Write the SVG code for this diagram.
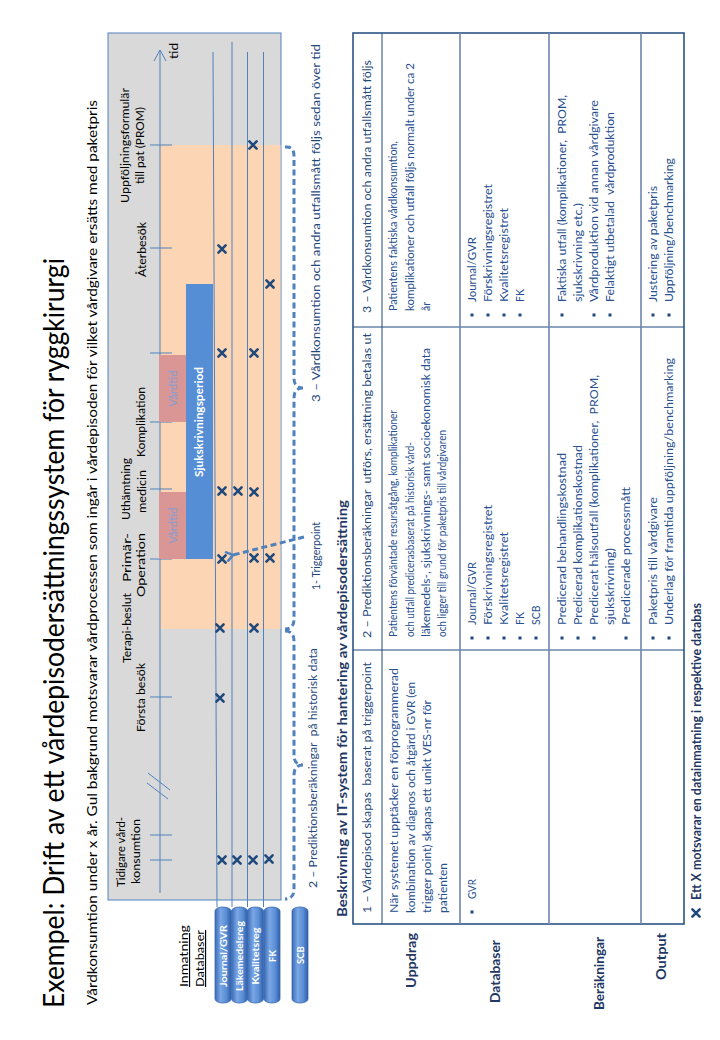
<svg xmlns="http://www.w3.org/2000/svg" width="720" height="1040" viewBox="0 0 720 1040">
<style>
text{font-family:Lato,"Liberation Sans",Arial,sans-serif;}
.t{font-size:11px;fill:#000;}
.lbl{font-size:11px;fill:#1f497d;}
.hd{font-size:11px;fill:#1f497d;}
.c{font-size:10.5px;fill:#27508f;}
.b{font-size:12.5px;font-weight:bold;fill:#1f3864;}
.db{font-size:9.5px;font-weight:bold;fill:#fff;}
.ax{stroke:#4f81bd;stroke-width:1;fill:none;}
.brace{stroke:#4f81bd;stroke-width:3;fill:none;stroke-dasharray:6 3.5;}
.grid{stroke:#1f497d;stroke-width:1;fill:none;}
.rowl{stroke:#6f86b0;stroke-width:1.6;fill:none;}
.bul{fill:#1f497d;}
</style>
<defs>
<linearGradient id="cyl" x1="0" y1="0" x2="1" y2="0">
<stop offset="0" stop-color="#3a6cb8"/>
<stop offset="0.35" stop-color="#7aa6e4"/>
<stop offset="0.7" stop-color="#5a8ed6"/>
<stop offset="1" stop-color="#2f5fa8"/>
</linearGradient>
<g id="xm"><path d="M-3.6,-3.6 L3.6,3.6 M3.6,-3.6 L-3.6,3.6" stroke="#1f497d" stroke-width="2.6" stroke-linecap="round"/></g>
<marker id="chev" viewBox="0 0 12 12" refX="2" refY="6" markerWidth="12" markerHeight="12" markerUnits="userSpaceOnUse" orient="auto">
<path d="M9,1 L2,6 L9,11" fill="none" stroke="#4f81bd" stroke-width="2.6"/>
</marker>
</defs>

<g id="title">
<text transform="translate(64,1008) rotate(-90)" font-size="29" fill="#000" textLength="750" lengthAdjust="spacingAndGlyphs">Exempel: Drift av ett vårdepisodersättningssystem för ryggkirurgi</text>
<text transform="translate(97,1005) rotate(-90)" font-size="12.5" fill="#000" textLength="905" lengthAdjust="spacingAndGlyphs">Vårdkonsumtion under x år. Gul bakgrund motsvarar vårdprocessen som ingår i vårdepisoden för vilket vårdgivare ersätts med paketpris</text>
</g>

<g id="chart">
<rect x="108" y="33" width="173" height="867" fill="#d9d9d9" stroke="#4f81bd" stroke-width="1"/>
<rect x="160" y="145" width="120.5" height="484" fill="#fcd5b4"/>
</g>

<g id="timeline">
<path class="ax" d="M160,893 L160,50 M154,61 L160,50 L166,61"/>
<path class="ax" d="M150,145 H172 M150,248 H172 M150,353 H172 M150,422 H172 M150,489 H172 M150,559 H172 M150,697 H172 M150,835 H172 M150,860 H172"/>
<path class="ax" d="M148,773 L170,790 M147,783 L168,799"/>
<text class="t" transform="translate(125,887) rotate(-90)" textLength="70" lengthAdjust="spacingAndGlyphs">Tidigare vård-</text>
<text class="t" transform="translate(140,884) rotate(-90)" textLength="65" lengthAdjust="spacingAndGlyphs">konsumtion</text>
<text class="t" transform="translate(145,732) rotate(-90)" textLength="69" lengthAdjust="spacingAndGlyphs">Första besök</text>
<text class="t" transform="translate(131,663) rotate(-90)" textLength="70" lengthAdjust="spacingAndGlyphs">Terapi-beslut</text>
<text class="t" transform="translate(131,582) rotate(-90)" textLength="49" lengthAdjust="spacingAndGlyphs">Primär-</text>
<text class="t" transform="translate(145,597) rotate(-90)" textLength="64" lengthAdjust="spacingAndGlyphs">Operation</text>
<text class="t" transform="translate(130,520) rotate(-90)" textLength="62" lengthAdjust="spacingAndGlyphs">Uthämtning</text>
<text class="t" transform="translate(146,513) rotate(-90)" textLength="43" lengthAdjust="spacingAndGlyphs">medicin</text>
<text class="t" transform="translate(145,457) rotate(-90)" textLength="70" lengthAdjust="spacingAndGlyphs">Komplikation</text>
<text class="t" transform="translate(146,277) rotate(-90)" textLength="55" lengthAdjust="spacingAndGlyphs">Återbesök</text>
<text class="t" transform="translate(129,203) rotate(-90)" textLength="115" lengthAdjust="spacingAndGlyphs">Uppföljningsformulär</text>
<text class="t" transform="translate(144,184) rotate(-90)" textLength="77" lengthAdjust="spacingAndGlyphs">till pat (PROM)</text>
<text class="t" transform="translate(178,59) rotate(-90)" font-size="12" textLength="16" lengthAdjust="spacingAndGlyphs">tid</text>
</g>

<g id="vardtid1">
<rect x="159" y="492" width="27" height="67" fill="#d99694"/>
<text transform="translate(177,525.5) rotate(-90)" font-size="11.5" fill="#7f9fd6" text-anchor="middle" textLength="36" lengthAdjust="spacingAndGlyphs">Vårdtid</text>
</g>
<g id="vardtid2">
<rect x="159" y="355" width="27" height="67" fill="#d99694"/>
<text transform="translate(177,388.5) rotate(-90)" font-size="11.5" fill="#7f9fd6" text-anchor="middle" textLength="36" lengthAdjust="spacingAndGlyphs">Vårdtid</text>
</g>
<g id="sjukskrivning">
<rect x="186" y="284" width="27" height="275" fill="#558ed5"/>
<text transform="translate(203,422) rotate(-90)" font-size="11" font-weight="bold" fill="#fff" text-anchor="middle" textLength="110" lengthAdjust="spacingAndGlyphs">Sjukskrivningsperiod</text>
</g>

<g id="dblines">
<path class="ax" d="M213,52 L217,907 M232,42 V907 M247.5,52 V907 M263.5,52 V907"/>
</g>

<g id="marks">
<use href="#xm" x="253" y="145"/>
<use href="#xm" x="222" y="249"/>
<use href="#xm" x="270" y="284"/>
<use href="#xm" x="222" y="353"/>
<use href="#xm" x="254" y="353"/>
<use href="#xm" x="222" y="491"/>
<use href="#xm" x="238" y="491"/>
<use href="#xm" x="254" y="492"/>
<use href="#xm" x="222" y="559"/>
<use href="#xm" x="254" y="558"/>
<use href="#xm" x="270" y="558"/>
<use href="#xm" x="220" y="628"/>
<use href="#xm" x="254" y="628"/>
<use href="#xm" x="220" y="698"/>
<use href="#xm" x="222" y="860"/>
<use href="#xm" x="237" y="860"/>
<use href="#xm" x="253" y="860"/>
<use href="#xm" x="269" y="859"/>
</g>

<g id="db-journal">
<rect x="215" y="907" width="16" height="96" rx="8" ry="4" fill="url(#cyl)" stroke="#3a68b0" stroke-width="0.8"/>
<text class="db" transform="translate(226.5,956) rotate(-90)" text-anchor="middle" textLength="62" lengthAdjust="spacingAndGlyphs">Journal/GVR</text>
</g>
<g id="db-lakemedel">
<rect x="231.5" y="907" width="16" height="96" rx="8" ry="4" fill="url(#cyl)" stroke="#3a68b0" stroke-width="0.8"/>
<text class="db" transform="translate(243,956) rotate(-90)" text-anchor="middle" textLength="70" lengthAdjust="spacingAndGlyphs">Läkemedelsreg</text>
</g>
<g id="db-kvalitet">
<rect x="247.5" y="907" width="16" height="96" rx="8" ry="4" fill="url(#cyl)" stroke="#3a68b0" stroke-width="0.8"/>
<text class="db" transform="translate(259,956) rotate(-90)" text-anchor="middle" textLength="57" lengthAdjust="spacingAndGlyphs">Kvalitetsreg</text>
</g>
<g id="db-fk">
<rect x="264" y="907" width="16" height="96" rx="8" ry="4" fill="url(#cyl)" stroke="#3a68b0" stroke-width="0.8"/>
<text class="db" transform="translate(275.5,956) rotate(-90)" text-anchor="middle">FK</text>
</g>
<g id="db-scb">
<rect x="292" y="907" width="16" height="96" rx="8" ry="4" fill="url(#cyl)" stroke="#3a68b0" stroke-width="0.8"/>
<text class="db" transform="translate(303.5,955) rotate(-90)" text-anchor="middle">SCB</text>
</g>
<g id="inmatning">
<text transform="translate(188,987) rotate(-90)" font-size="11.5" fill="#000" text-decoration="underline" textLength="62" lengthAdjust="spacingAndGlyphs">Inmatning</text>
<text transform="translate(204,987) rotate(-90)" font-size="11.5" fill="#000" text-decoration="underline" textLength="57" lengthAdjust="spacingAndGlyphs">Databaser</text>
</g>

<g id="connectors">
<path class="brace" d="M285,147 Q294,146 294,156 L294,378 Q294,388 303,388 M303,388 Q294,388 294,398 L294,619 Q294,629 285,629"/>
<path class="brace" d="M285,631 Q294,631 294,641 L294,755 Q294,765 303,765 M303,765 Q294,765 294,775 L294,889 Q294,899 285,899"/>
<path class="brace" d="M304,537 L233,555" marker-end="url(#chev)"/>
</g>

<g id="brace-labels">
<text class="lbl" transform="translate(317,888) rotate(-90)" textLength="240" lengthAdjust="spacingAndGlyphs" xml:space="preserve">2 – Prediktionsberäkningar  på historisk data</text>
<text class="lbl" transform="translate(320,590) rotate(-90)" textLength="68" lengthAdjust="spacingAndGlyphs">1- Triggerpoint</text>
<text class="lbl" transform="translate(320,402) rotate(-90)" textLength="358" lengthAdjust="spacingAndGlyphs">3 – Vårdkonsumtion och andra utfallsmått följs sedan över tid</text>
</g>

<g id="table">
<text class="b" transform="translate(347,917) rotate(-90)" textLength="417" lengthAdjust="spacingAndGlyphs">Beskrivning av IT-system för hantering av vårdepisodersättning</text>
<rect x="353" y="33" width="331" height="891" fill="#fff" stroke="#1f497d" stroke-width="1.5"/>
<path class="grid" d="M382,33 V924 M353,650 H684 M353,327 H684"/>
<path class="rowl" d="M460,33 V924 M549,33 V924 M641,33 V924"/>

<text class="hd" transform="translate(371,913) rotate(-90)" textLength="251" lengthAdjust="spacingAndGlyphs" xml:space="preserve">1 – Vårdepisod skapas  baserat på triggerpoint</text>
<text class="hd" transform="translate(371,638) rotate(-90)" textLength="305" lengthAdjust="spacingAndGlyphs" xml:space="preserve">2 – Prediktionsberäkningar  utförs, ersättning betalas ut</text>
<text class="hd" transform="translate(371,313) rotate(-90)" textLength="253" lengthAdjust="spacingAndGlyphs">3 – Vårdkonsumtion och andra utfallsmått följs</text>

<text class="c" transform="translate(398,913) rotate(-90)" textLength="245" lengthAdjust="spacingAndGlyphs">När systemet upptäcker en förprogrammerad</text>
<text class="c" transform="translate(415,913) rotate(-90)" textLength="231" lengthAdjust="spacingAndGlyphs">kombination av diagnos och åtgärd i GVR (en</text>
<text class="c" transform="translate(431,913) rotate(-90)" textLength="213" lengthAdjust="spacingAndGlyphs">trigger point) skapas ett unikt VES-nr för</text>
<text class="c" transform="translate(447,913) rotate(-90)" textLength="50" lengthAdjust="spacingAndGlyphs">patienten</text>

<text class="c" transform="translate(397,637) rotate(-90)" textLength="227" lengthAdjust="spacingAndGlyphs">Patientens förväntade resursåtgång, komplikationer</text>
<text class="c" transform="translate(414,637) rotate(-90)" textLength="195" lengthAdjust="spacingAndGlyphs">och utfall predicerasbaserat på historisk vård-</text>
<text class="c" transform="translate(430,637) rotate(-90)" textLength="289" lengthAdjust="spacingAndGlyphs">läkemedels-, sjukskrivnings- samt socioekonomisk data</text>
<text class="c" transform="translate(446,637) rotate(-90)" textLength="207" lengthAdjust="spacingAndGlyphs">och ligger till grund för paketpris till vårdgivaren</text>

<text class="c" transform="translate(397,311) rotate(-90)" textLength="170" lengthAdjust="spacingAndGlyphs">Patientens faktiska vårdkonsumtion,</text>
<text class="c" transform="translate(414,311) rotate(-90)" textLength="248" lengthAdjust="spacingAndGlyphs">komplikationer och utfall följs normalt under ca 2</text>
<text class="c" transform="translate(430,311) rotate(-90)">år</text>

<rect class="bul" x="470.5" y="910.5" width="3" height="3"/>
<text class="c" transform="translate(476,899) rotate(-90)" textLength="20" lengthAdjust="spacingAndGlyphs">GVR</text>

<rect class="bul" x="470.5" y="636.5" width="3" height="3"/>
<rect class="bul" x="486.5" y="636.5" width="3" height="3"/>
<rect class="bul" x="502.5" y="636.5" width="3" height="3"/>
<rect class="bul" x="518.5" y="636.5" width="3" height="3"/>
<rect class="bul" x="534.5" y="636.5" width="3" height="3"/>
<text class="c" transform="translate(476,625) rotate(-90)" textLength="63" lengthAdjust="spacingAndGlyphs">Journal/GVR</text>
<text class="c" transform="translate(492,625) rotate(-90)" textLength="120" lengthAdjust="spacingAndGlyphs">Förskrivningsregistret</text>
<text class="c" transform="translate(508,625) rotate(-90)" textLength="93" lengthAdjust="spacingAndGlyphs">Kvalitetsregistret</text>
<text class="c" transform="translate(524,625) rotate(-90)">FK</text>
<text class="c" transform="translate(540,625) rotate(-90)">SCB</text>

<rect class="bul" x="470.5" y="313.5" width="3" height="3"/>
<rect class="bul" x="486.5" y="313.5" width="3" height="3"/>
<rect class="bul" x="502.5" y="313.5" width="3" height="3"/>
<rect class="bul" x="518.5" y="313.5" width="3" height="3"/>
<text class="c" transform="translate(476,302) rotate(-90)" textLength="65" lengthAdjust="spacingAndGlyphs">Journal/GVR</text>
<text class="c" transform="translate(492,302) rotate(-90)" textLength="118" lengthAdjust="spacingAndGlyphs">Förskrivningsregistret</text>
<text class="c" transform="translate(508,302) rotate(-90)" textLength="94" lengthAdjust="spacingAndGlyphs">Kvalitetsregistret</text>
<text class="c" transform="translate(524,302) rotate(-90)">FK</text>

<rect class="bul" x="560.5" y="636.5" width="3" height="3"/>
<rect class="bul" x="576.5" y="636.5" width="3" height="3"/>
<rect class="bul" x="592.5" y="636.5" width="3" height="3"/>
<rect class="bul" x="624.5" y="636.5" width="3" height="3"/>
<text class="c" transform="translate(566,625) rotate(-90)" textLength="172" lengthAdjust="spacingAndGlyphs">Predicerad behandlingskostnad</text>
<text class="c" transform="translate(582,625) rotate(-90)" textLength="180" lengthAdjust="spacingAndGlyphs">Predicerad komplikationskostnad</text>
<text class="c" transform="translate(598,625) rotate(-90)" textLength="250" lengthAdjust="spacingAndGlyphs" xml:space="preserve">Predicerat hälsoutfall (komplikationer,  PROM,</text>
<text class="c" transform="translate(614,625) rotate(-90)" textLength="77" lengthAdjust="spacingAndGlyphs">sjukskrivning)</text>
<text class="c" transform="translate(630,625) rotate(-90)" textLength="138" lengthAdjust="spacingAndGlyphs">Predicerade processmått</text>

<rect class="bul" x="560.5" y="313.5" width="3" height="3"/>
<rect class="bul" x="592.5" y="313.5" width="3" height="3"/>
<rect class="bul" x="608.5" y="313.5" width="3" height="3"/>
<text class="c" transform="translate(566,302) rotate(-90)" textLength="207" lengthAdjust="spacingAndGlyphs" xml:space="preserve">Faktiska utfall (komplikationer,  PROM,</text>
<text class="c" transform="translate(582,302) rotate(-90)" textLength="99" lengthAdjust="spacingAndGlyphs">sjukskrivning etc.)</text>
<text class="c" transform="translate(598,302) rotate(-90)" textLength="202" lengthAdjust="spacingAndGlyphs">Vårdproduktion vid annan vårdgivare</text>
<text class="c" transform="translate(614,302) rotate(-90)" textLength="190" lengthAdjust="spacingAndGlyphs" xml:space="preserve">Felaktigt utbetalad  vårdproduktion</text>

<rect class="bul" x="651.5" y="636.5" width="3" height="3"/>
<rect class="bul" x="667.5" y="636.5" width="3" height="3"/>
<text class="c" transform="translate(657,625) rotate(-90)" textLength="128" lengthAdjust="spacingAndGlyphs">Paketpris till vårdgivare</text>
<text class="c" transform="translate(673,625) rotate(-90)" textLength="267" lengthAdjust="spacingAndGlyphs">Underlag för framtida uppföljning/benchmarking</text>

<rect class="bul" x="651.5" y="313.5" width="3" height="3"/>
<rect class="bul" x="667.5" y="313.5" width="3" height="3"/>
<text class="c" transform="translate(657,302) rotate(-90)" textLength="116" lengthAdjust="spacingAndGlyphs">Justering av paketpris</text>
<text class="c" transform="translate(673,302) rotate(-90)" textLength="144" lengthAdjust="spacingAndGlyphs">Uppföljning/benchmarking</text>
</g>

<g id="row-labels">
<text class="b" transform="translate(416,988) rotate(-90)" textLength="55" lengthAdjust="spacingAndGlyphs">Uppdrag</text>
<text class="b" transform="translate(500,1003) rotate(-90)" textLength="63" lengthAdjust="spacingAndGlyphs">Databaser</text>
<text class="b" transform="translate(604,1010) rotate(-90)" textLength="73" lengthAdjust="spacingAndGlyphs">Beräkningar</text>
<text class="b" transform="translate(666,980) rotate(-90)" textLength="47" lengthAdjust="spacingAndGlyphs">Output</text>
</g>

<g id="legend">
<use href="#xm" x="696" y="913"/>
<text class="b" font-size="11.5" transform="translate(701,900) rotate(-90)" textLength="297" lengthAdjust="spacingAndGlyphs">Ett X motsvarar en datainmatning i respektive databas</text>
</g>
</svg>
